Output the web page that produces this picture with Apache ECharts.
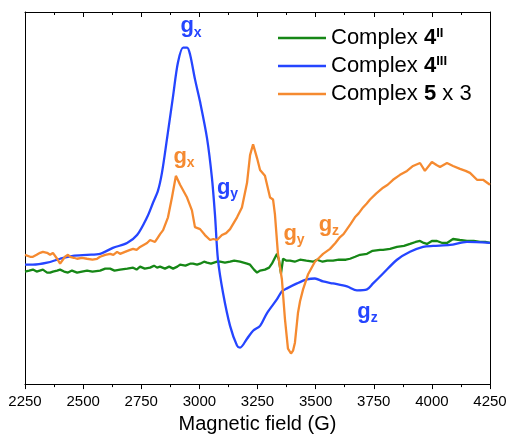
<!DOCTYPE html>
<html>
<head>
<meta charset="utf-8">
<script src="https://cdn.jsdelivr.net/npm/echarts@6/dist/echarts.min.js"></script>
<style>
  html, body { margin: 0; padding: 0; background: #fff; }
  #chart { width: 511px; height: 439px; }
</style>
</head>
<body>
<div id="chart"></div>
<script>
// EPR spectra: [magnetic field (G), signal intensity (arb. units)]
const complex4II = [
  [2250,114],[2268,115],[2284,116],[2300,114],[2327,116],[2345,113],[2358,113],[2370,114],
  [2388,115],[2401,116],[2418,114],[2435,113],[2452,115],[2474,113],[2495,114],[2517,115],
  [2540,114],[2573,115],[2595,117],[2616,117],[2635,115],[2659,116],[2690,117],[2715,118],
  [2730,116],[2745,119],[2765,117],[2788,118],[2805,120],[2818,118],[2831,119],[2852,117],
  [2870,119],[2887,117],[2905,119],[2917,121],[2940,120],[2960,122],[2973,122],[2990,121],
  [3003,122],[3020,124],[3033,123],[3050,122],[3076,124],[3089,124],[3110,123],[3132,124],
  [3150,125],[3175,124],[3190,123],[3205,122],[3218,121],[3235,116],[3248,113],[3261,115],
  [3282,116],[3300,118],[3312,122],[3325,128],[3334,132],[3342,126],[3351,112],[3360,127],
  [3375,125],[3390,125],[3410,124],[3433,126],[3460,125],[3489,124],[3506,126],[3530,124],
  [3550,125],[3575,125],[3600,126],[3630,126],[3648,127],[3670,129],[3691,131],[3721,132],
  [3745,135],[3777,136],[3790,136],[3820,137],[3850,139],[3880,140],[3906,142],[3930,144],
  [3949,145],[3965,143],[3979,142],[4000,145],[4022,145],[4045,143],[4065,143],[4091,147],
  [4120,146],[4151,145],[4180,145],[4207,144],[4230,144],[4250,143]
];

const complex4III = [
  [2250,121],[2284,121],[2345,123],[2401,127],[2456,130],[2517,131],[2573,132],[2628,138],
  [2689,143],[2732,151],[2775,169],[2801,184],[2822,196],[2839,214],[2861,249],[2887,292],
  [2908,326],[2930,341],[2947,341],[2960,334],[2981,309],[3003,286],[3033,249],[3054,209],
  [3067,172],[3080,126],[3102,92],[3132,59],[3162,39],[3175,37],[3205,46],[3231,54],
  [3261,59],[3291,72],[3334,86],[3355,94],[3377,97],[3420,102],[3463,106],[3497,107],
  [3532,104],[3575,102],[3635,99],[3678,95],[3721,96],[3747,102],[3790,112],[3850,126],
  [3906,134],[3962,139],[4005,140],[4078,141],[4151,144],[4250,143]
];

const complex5x3 = [
  [2250,131],[2272,129],[2284,129],[2300,131],[2315,133],[2327,134],[2345,133],[2358,131],
  [2370,133],[2388,127],[2401,122],[2409,124],[2422,129],[2435,131],[2444,129],[2460,128],
  [2474,127],[2495,128],[2517,127],[2540,126],[2560,127],[2573,129],[2595,131],[2616,132],
  [2630,131],[2646,134],[2659,132],[2680,134],[2702,136],[2715,137],[2730,136],[2745,139],
  [2760,141],[2775,143],[2788,146],[2809,144],[2820,148],[2831,152],[2844,156],[2865,169],
  [2882,189],[2899,211],[2917,202],[2925,204],[2947,189],[2968,176],[2981,159],[3003,157],
  [3024,151],[3046,146],[3060,147],[3076,146],[3097,151],[3115,153],[3132,157],[3162,169],
  [3183,179],[3205,204],[3218,232],[3231,243],[3248,229],[3261,217],[3282,211],[3304,189],
  [3317,187],[3325,172],[3338,132],[3355,106],[3368,66],[3381,36],[3394,31],[3403,34],
  [3411,42],[3424,72],[3433,84],[3446,96],[3467,111],[3497,124],[3515,128],[3532,132],
  [3562,137],[3585,143],[3605,149],[3620,152],[3635,157],[3650,162],[3669,169],[3685,173],
  [3704,179],[3720,183],[3734,187],[3760,193],[3790,199],[3810,202],[3833,207],[3863,212],
  [3893,216],[3919,221],[3949,224],[3970,216],[4000,225],[4020,222],[4035,220],[4065,224],
  [4091,221],[4121,218],[4145,216],[4164,214],[4194,207],[4220,207],[4250,202]
];

// g-tensor component labels: [field, intensity, component]
const labels4III = [[2964,356,'x'],[3121,192,'y'],[3723,67,'z']];
const labels5 = [[2934,224,'x'],[3407,146,'y'],[3557,155,'z']];

const seriesNames = ['Complex 4II', 'Complex 4III', 'Complex 5 x 3'];
const legendText = {
  'Complex 4II': '{n|Complex }{b|4}{sup|II}',
  'Complex 4III': '{n|Complex }{b|4}{sup|III}',
  'Complex 5 x 3': '{n|Complex }{b|5}{n| x 3}'
};
const colors = ['#168716', '#2545ff', '#f58a30'];

const fieldMin = 2250, fieldMax = 4250, fieldStep = 250;
const FONT = 'Liberation Sans, Arial, sans-serif';

function gLabels(list, color) {
  return {
    symbol: 'circle',
    symbolSize: 0,
    silent: true,
    itemStyle: { color: 'transparent' },
    label: {
      show: true,
      position: 'inside',
      color: color,
      rich: {
        g: { fontFamily: FONT, fontSize: 22, fontWeight: 'bold', color: color, lineHeight: 22, verticalAlign: 'top' },
        s: { fontFamily: FONT, fontSize: 14, fontWeight: 'bold', color: color, lineHeight: 35 }
      }
    },
    data: list.map(d => ({ coord: [d[0], d[1]], label: { formatter: '{g|g}{s|' + d[2] + '}' } }))
  };
}

const chart = echarts.init(document.getElementById('chart'), null, { renderer: 'canvas' });

const xBase = {
  type: 'value',
  min: fieldMin,
  max: fieldMax,
  interval: fieldStep,
  splitLine: { show: false },
  axisLine: { show: true, onZero: false, lineStyle: { color: '#000', width: 1 } },
  minorTick: { show: true, splitNumber: 2, length: 3, lineStyle: { color: '#000', width: 1 } },
  axisTick: { show: true, length: 5, lineStyle: { color: '#000', width: 1 } }
};

const yBase = {
  type: 'value',
  min: 0,
  max: 377,
  axisLine: { show: true, onZero: false, lineStyle: { color: '#000', width: 1 } },
  axisTick: { show: false },
  axisLabel: { show: false },
  splitLine: { show: false }
};

chart.setOption({
  animation: false,
  backgroundColor: '#fff',
  grid: { left: 25, right: 21, top: 12, bottom: 50 },
  legend: {
    orient: 'vertical',
    left: 278,
    top: 27,
    padding: 0,
    itemGap: 6,
    itemWidth: 48,
    itemHeight: 2.5,
    icon: 'rect',
    data: seriesNames,
    formatter: name => legendText[name],
    textStyle: {
      color: '#000',
      rich: {
        n: { fontFamily: FONT, fontSize: 22, color: '#000', lineHeight: 22 },
        b: { fontFamily: FONT, fontSize: 22, fontWeight: 'bold', color: '#000', lineHeight: 22 },
        sup: { fontFamily: FONT, fontSize: 13, fontWeight: 'bold', color: '#000', lineHeight: 15, verticalAlign: 'top' }
      }
    }
  },
  xAxis: [
    Object.assign({}, xBase, {
      position: 'bottom',
      name: 'Magnetic field (G)',
      nameLocation: 'middle',
      nameGap: 29,
      nameTextStyle: { fontFamily: FONT, fontSize: 20, color: '#000' },
      axisLabel: { fontFamily: FONT, fontSize: 15, color: '#000', margin: 10, formatter: v => String(v) }
    }),
    Object.assign({}, xBase, {
      position: 'top',
      axisTick: { show: true, inside: true, length: 5, lineStyle: { color: '#000', width: 1 } },
      axisLabel: { show: false }
    })
  ],
  yAxis: [
    Object.assign({}, yBase, { position: 'left' }),
    Object.assign({}, yBase, { position: 'right' })
  ],
  series: [
    {
      name: seriesNames[0], type: 'line', data: complex4II,
      symbol: 'none', showSymbol: false, color: colors[0],
      lineStyle: { width: 2.3, color: colors[0] }
    },
    {
      name: seriesNames[1], type: 'line', data: complex4III,
      symbol: 'none', showSymbol: false, smooth: 0.3, color: colors[1],
      lineStyle: { width: 2.3, color: colors[1] },
      markPoint: gLabels(labels4III, colors[1])
    },
    {
      name: seriesNames[2], type: 'line', data: complex5x3,
      symbol: 'none', showSymbol: false, color: colors[2],
      lineStyle: { width: 2.3, color: colors[2] },
      markPoint: gLabels(labels5, colors[2])
    }
  ]
});
</script>
</body>
</html>
